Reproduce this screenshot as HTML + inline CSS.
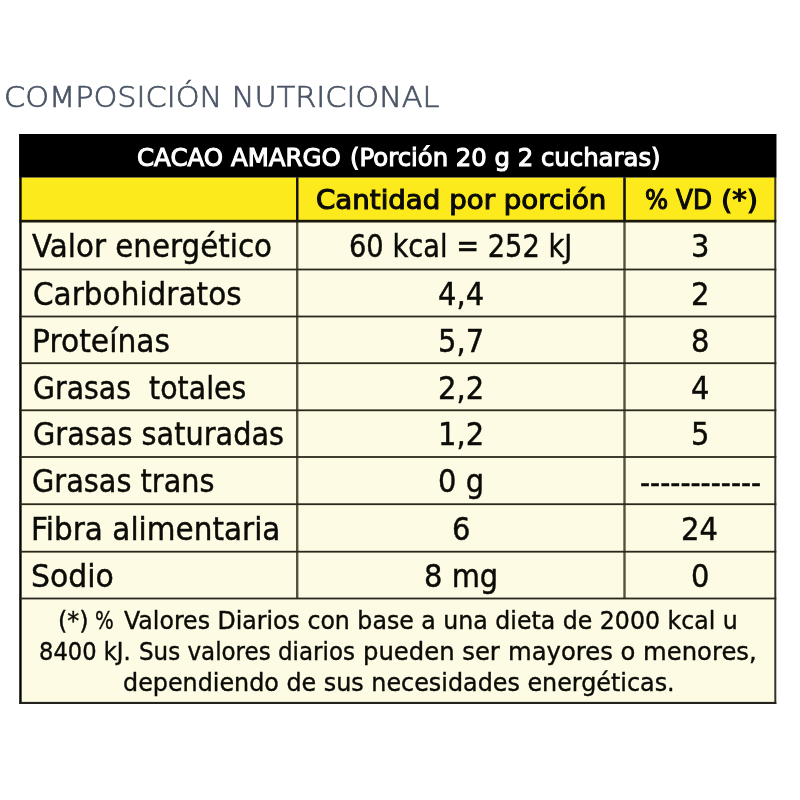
<!DOCTYPE html>
<html lang="es">
<head>
<meta charset="utf-8">
<title>Composición nutricional</title>
<style>
html,body{margin:0;padding:0;background:#fff;}
body{width:800px;height:800px;position:relative;overflow:hidden;font-family:"DejaVu Sans","Liberation Sans",sans-serif;color:#0b0b07;}
.t{position:absolute;margin:0;white-space:pre;transform-origin:0 0;line-height:1;font-weight:normal;}
#title{font-family:"DejaVu Sans Light","DejaVu Sans","Liberation Sans",sans-serif;font-weight:200;}
</style>
</head>
<body>

<svg id="grid" width="800" height="800" viewBox="0 0 800 800" style="position:absolute;left:0;top:0;">
<rect id="table-bg" x="19.25" y="134" width="757.05" height="570" fill="#fdfbe4"/>
<rect id="head-yellow" x="19.25" y="177.5" width="757.05" height="44.1" fill="#fdea1c"/>
<rect x="19.25" y="134" width="2.4" height="570" fill="#050503"/>
<rect x="774.3" y="134" width="2" height="570" fill="#34322c"/>
<rect x="19.25" y="701.9" width="757.05" height="2.1" fill="#24221c"/>
<rect x="296" y="177.5" width="2.4" height="421" fill="#55523f"/>
<rect x="623.3" y="177.5" width="2.4" height="421" fill="#55523f"/>
<rect x="296.1" y="177.5" width="2.2" height="44.1" fill="#14130a"/>
<rect x="623.4" y="177.5" width="2.2" height="44.1" fill="#14130a"/>
<rect x="19.25" y="219.8" width="757.05" height="2.7" fill="#1a1808"/>
<rect x="19.25" y="268.6" width="757.05" height="1.8" fill="#2a281c"/>
<rect x="19.25" y="315.6" width="757.05" height="1.8" fill="#2a281c"/>
<rect x="19.25" y="362.3" width="757.05" height="1.8" fill="#2a281c"/>
<rect x="19.25" y="409.4" width="757.05" height="1.8" fill="#2a281c"/>
<rect x="19.25" y="456.1" width="757.05" height="1.8" fill="#2a281c"/>
<rect x="19.25" y="503.3" width="757.05" height="1.8" fill="#2a281c"/>
<rect x="19.25" y="550.8" width="757.05" height="1.8" fill="#2a281c"/>
<rect x="19.25" y="597.6" width="757.05" height="1.8" fill="#2a281c"/>
<rect id="head-black" x="19.25" y="134" width="757.05" height="43.5" fill="#000"/>
</svg>
<h1 class="t" id="title" style="left:3.67px;top:84px;font-size:27.8px;transform:scaleX(1.0907);-webkit-text-stroke:0.7px;color:#4b5565;">COMPOSICIÓN NUTRICIONAL</h1>
<div class="t" id="cap1" style="left:137.32px;top:145px;font-size:25px;transform:scaleX(0.9795);-webkit-text-stroke:1.1px;color:#ffffff;">CACAO AMARGO</div>
<div class="t" id="cap2" style="left:349.60px;top:145px;font-size:25px;transform:scaleX(0.9734);-webkit-text-stroke:1.1px;color:#ffffff;">(Porción 20 g 2 cucharas)</div>
<div class="t" id="th2" style="left:315.74px;top:187px;font-size:26.2px;transform:scaleX(1.0561);-webkit-text-stroke:1.1px;">Cantidad por porción</div>
<div class="t" id="th3a" style="left:644.62px;top:187px;font-size:26.2px;transform:scaleX(0.9304);-webkit-text-stroke:1.1px;">%</div>
<div class="t" id="th3b" style="left:675.55px;top:187px;font-size:26.2px;transform:scaleX(0.9454);-webkit-text-stroke:1.1px;">VD</div>
<div class="t" id="th3c" style="left:720.84px;top:187px;font-size:26.2px;transform:scaleX(1.1054);-webkit-text-stroke:1.1px;">(*)</div>
<div class="t" id="r1a" style="left:32.23px;top:230px;font-size:32px;transform:scaleX(0.9172);-webkit-text-stroke:0.45px;">Valor energético</div>
<div class="t" id="r1b" style="left:348.52px;top:230px;font-size:32px;transform:scaleX(0.8528);-webkit-text-stroke:0.45px;">60 kcal = 252 kJ</div>
<div class="t" id="r1c" style="left:690.59px;top:230px;font-size:32px;transform:scaleX(0.9050);-webkit-text-stroke:0.45px;">3</div>
<div class="t" id="r2a" style="left:32.80px;top:278px;font-size:32px;transform:scaleX(0.9228);-webkit-text-stroke:0.45px;">Carbohidratos</div>
<div class="t" id="r2b" style="left:437.77px;top:278px;font-size:32px;transform:scaleX(0.9050);-webkit-text-stroke:0.45px;">4,4</div>
<div class="t" id="r2c" style="left:690.59px;top:278px;font-size:32px;transform:scaleX(0.9050);-webkit-text-stroke:0.45px;">2</div>
<div class="t" id="r3a" style="left:32.44px;top:325px;font-size:32px;transform:scaleX(0.9293);-webkit-text-stroke:0.45px;">Proteínas</div>
<div class="t" id="r3b" style="left:437.77px;top:325px;font-size:32px;transform:scaleX(0.9050);-webkit-text-stroke:0.45px;">5,7</div>
<div class="t" id="r3c" style="left:690.59px;top:325px;font-size:32px;transform:scaleX(0.9050);-webkit-text-stroke:0.45px;">8</div>
<div class="t" id="r4a" style="left:33.09px;top:372px;font-size:32px;transform:scaleX(0.8872);-webkit-text-stroke:0.45px;">Grasas  totales</div>
<div class="t" id="r4b" style="left:437.77px;top:372px;font-size:32px;transform:scaleX(0.9050);-webkit-text-stroke:0.45px;">2,2</div>
<div class="t" id="r4c" style="left:690.59px;top:372px;font-size:32px;transform:scaleX(0.9050);-webkit-text-stroke:0.45px;">4</div>
<div class="t" id="r5a" style="left:33.08px;top:418px;font-size:32px;transform:scaleX(0.8993);-webkit-text-stroke:0.45px;">Grasas saturadas</div>
<div class="t" id="r5b" style="left:437.77px;top:418px;font-size:32px;transform:scaleX(0.9050);-webkit-text-stroke:0.45px;">1,2</div>
<div class="t" id="r5c" style="left:690.59px;top:418px;font-size:32px;transform:scaleX(0.9050);-webkit-text-stroke:0.45px;">5</div>
<div class="t" id="r6a" style="left:32.33px;top:465px;font-size:32px;transform:scaleX(0.8995);-webkit-text-stroke:0.45px;">Grasas trans</div>
<div class="t" id="r6b" style="left:437.79px;top:465px;font-size:32px;transform:scaleX(0.9050);-webkit-text-stroke:0.45px;">0 g</div>
<div class="t" id="r7a" style="left:31.46px;top:513px;font-size:32px;transform:scaleX(0.9219);-webkit-text-stroke:0.45px;">Fibra alimentaria</div>
<div class="t" id="r7b" style="left:451.59px;top:513px;font-size:32px;transform:scaleX(0.9050);-webkit-text-stroke:0.45px;">6</div>
<div class="t" id="r7c" style="left:681.37px;top:513px;font-size:32px;transform:scaleX(0.9050);-webkit-text-stroke:0.45px;">24</div>
<div class="t" id="r8a" style="left:30.86px;top:560px;font-size:32px;transform:scaleX(0.9349);-webkit-text-stroke:0.45px;">Sodio</div>
<div class="t" id="r8b" style="left:423.69px;top:560px;font-size:32px;transform:scaleX(0.9050);-webkit-text-stroke:0.45px;">8 mg</div>
<div class="t" id="r8c" style="left:690.59px;top:560px;font-size:32px;transform:scaleX(0.9050);-webkit-text-stroke:0.45px;">0</div>
<div class="t" id="r6c" style="left:639.68px;top:467px;font-size:32px;transform:scaleX(0.8745);-webkit-text-stroke:0.5px;">------------</div>
<div class="t" id="f1a" style="left:58.28px;top:608px;font-size:25px;transform:scaleX(0.9592);-webkit-text-stroke:0.4px;">(*)</div>
<div class="t" id="f1b" style="left:95.41px;top:608px;font-size:25px;transform:scaleX(0.7886);-webkit-text-stroke:0.4px;">%</div>
<div class="t" id="f1c" style="left:123.70px;top:608px;font-size:25px;transform:scaleX(0.9462);-webkit-text-stroke:0.4px;">Valores Diarios con base a una dieta de 2000 kcal u</div>
<div class="t" id="f2a" style="left:38.70px;top:639px;font-size:25px;transform:scaleX(0.9038);-webkit-text-stroke:0.4px;">8400 kJ.</div>
<div class="t" id="f2b" style="left:139.28px;top:639px;font-size:25px;transform:scaleX(0.9198);-webkit-text-stroke:0.4px;">Sus valores diarios</div>
<div class="t" id="f2c" style="left:363.26px;top:639px;font-size:25px;transform:scaleX(0.9718);-webkit-text-stroke:0.4px;">pueden ser</div>
<div class="t" id="f2d" style="left:508.26px;top:639px;font-size:25px;transform:scaleX(0.9715);-webkit-text-stroke:0.4px;">mayores o menores,</div>
<div class="t" id="f3" style="left:123.00px;top:670px;font-size:25px;transform:scaleX(0.9532);-webkit-text-stroke:0.4px;">dependiendo de sus necesidades energéticas.</div>
</body>
</html>
